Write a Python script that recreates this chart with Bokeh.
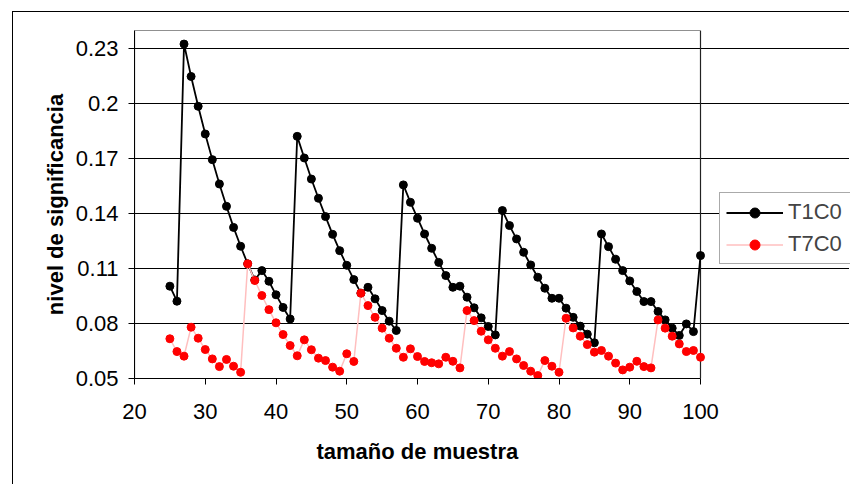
from bokeh.plotting import figure
from bokeh.models import Range1d, FixedTicker, Legend, LegendItem, BoxAnnotation, Title
from bokeh.embed import file_html
from bokeh.resources import INLINE

# ---- data ----
sample_size = list(range(25, 101))
t1c0 = [0.1004, 0.0922, 0.2326, 0.2149, 0.1986, 0.1835, 0.1695, 0.1562, 0.1440, 0.1325,
        0.1222, 0.1126, 0.1038, 0.1089, 0.1031, 0.0957, 0.0888, 0.0825, 0.1822, 0.1704,
        0.1589, 0.1484, 0.1384, 0.1287, 0.1198, 0.1118, 0.1040, 0.0966, 0.0998, 0.0935,
        0.0871, 0.0813, 0.0762, 0.1557, 0.1462, 0.1375, 0.1289, 0.1211, 0.1134, 0.1062,
        0.0998, 0.1004, 0.0944, 0.0886, 0.0831, 0.0784, 0.0738, 0.1417, 0.1335, 0.1262,
        0.1189, 0.1120, 0.1053, 0.0993, 0.0938, 0.0938, 0.0884, 0.0834, 0.0786, 0.0742,
        0.0695, 0.1289, 0.1220, 0.1151, 0.1089, 0.1033, 0.0975, 0.0920, 0.0920, 0.0866,
        0.0820, 0.0775, 0.0735, 0.0798, 0.0756, 0.1171]
t7c0 = [0.0717, 0.0647, 0.0622, 0.0780, 0.0720, 0.0658, 0.0607, 0.0565, 0.0604, 0.0567,
        0.0534, 0.1126, 0.1035, 0.0953, 0.0876, 0.0804, 0.0740, 0.0680, 0.0624, 0.0711,
        0.0657, 0.0611, 0.0598, 0.0562, 0.0540, 0.0635, 0.0593, 0.0966, 0.0898, 0.0834,
        0.0775, 0.0720, 0.0665, 0.0616, 0.0662, 0.0620, 0.0593, 0.0586, 0.0580, 0.0616,
        0.0594, 0.0558, 0.0871, 0.0816, 0.0758, 0.0711, 0.0665, 0.0622, 0.0647, 0.0607,
        0.0571, 0.0540, 0.0516, 0.0598, 0.0567, 0.0534, 0.0829, 0.0776, 0.0731, 0.0685,
        0.0644, 0.0653, 0.0622, 0.0584, 0.0547, 0.0562, 0.0594, 0.0565, 0.0558, 0.0820,
        0.0775, 0.0731, 0.0689, 0.0647, 0.0653, 0.0616]
x_ticks = [20, 30, 40, 50, 60, 70, 80, 90, 100]
y_ticks = [0.05, 0.08, 0.11, 0.14, 0.17, 0.2, 0.23]
y_tick_labels = ["0.05", "0.08", "0.11", "0.14", "0.17", "0.2", "0.23"]
series_names = ["T1C0", "T7C0"]
x_title = "tamaño de muestra"
y_title = "nivel de significancia"

X_MIN, X_MAX = 20, 100
Y_MIN, Y_MAX = 0.05, 0.24
FONT = "Liberation Sans"

# frame spans to the right edge so the legend (which sits outside the plot
# area) is not clipped; the plot area itself is 20..100
x_view_max = X_MAX + 150 / (566 / (X_MAX - X_MIN))

p = figure(width=837, height=473, output_backend="svg", toolbar_location=None,
           x_range=Range1d(X_MIN, x_view_max), y_range=Range1d(Y_MIN, Y_MAX),
           min_border_left=121, min_border_right=0, min_border_top=18, min_border_bottom=107)
p.styles = {"margin-left": "12px", "margin-top": "11px",
            "border-left": "1px solid #000", "border-top": "1px solid #000"}

p.background_fill_color = "white"
p.border_fill_color = "white"
p.outline_line_color = None

# axes
p.xaxis.ticker = FixedTicker(ticks=x_ticks)
p.yaxis.ticker = FixedTicker(ticks=y_ticks)
p.xaxis.bounds = (X_MIN, X_MAX)
p.yaxis.major_label_overrides = {t: l for t, l in zip(y_ticks, y_tick_labels)}
for ax in (p.xaxis, p.yaxis):
    ax.axis_line_color = "black"
    ax.axis_line_width = 1
    ax.major_tick_line_color = "black"
    ax.major_tick_out = 6
    ax.major_tick_in = 0
    ax.minor_tick_out = 0
    ax.minor_tick_in = 0
    ax.major_label_text_font = FONT
    ax.major_label_text_font_size = "22px"
    ax.major_label_text_color = "black"
    ax.axis_label_text_font = FONT
    ax.axis_label_text_font_size = "22px"
    ax.axis_label_text_font_style = "bold"
    ax.axis_label_text_color = "black"
p.yaxis.axis_label = y_title
p.xaxis.major_label_standoff = 19
p.yaxis.major_label_standoff = 10
p.yaxis.axis_label_standoff = 5

# x-axis title centred under the plot area (20..100), not the wider frame
p.add_layout(Title(text=x_title, align="left", offset=182, standoff=30,
                   text_font=FONT, text_font_size="22px", text_font_style="bold",
                   text_color="black"), "below")

p.xgrid.visible = False
p.ygrid.ticker = FixedTicker(ticks=y_ticks)
p.ygrid.bounds = (X_MIN, X_MAX)
p.ygrid.grid_line_color = "black"
p.ygrid.grid_line_width = 1

# plot-area border
p.add_layout(BoxAnnotation(left=X_MIN, right=X_MAX, bottom=Y_MIN, top=Y_MAX,
                           fill_alpha=0, line_color="#222222", line_alpha=1.0,
                           line_width=1.2, level="underlay"))

# series
l1 = p.line(sample_size, t1c0, line_color="black", line_width=1.8)
s1 = p.scatter(sample_size, t1c0, size=8, fill_color="black", line_color="black")
l2 = p.line(sample_size, t7c0, line_color="#ffbfbf", line_width=1.5)
s2 = p.scatter(sample_size, t7c0, size=8, fill_color="#ff0000", line_color="#ff0000")

legend = Legend(items=[LegendItem(label=series_names[0], renderers=[l1, s1]),
                       LegendItem(label=series_names[1], renderers=[l2, s2])],
                location=(585, 114), orientation="vertical",
                label_text_font=FONT, label_text_font_size="22px",
                glyph_width=57, glyph_height=25, label_height=25, label_width=80,
                label_standoff=5, spacing=6, padding=6, margin=0,
                border_line_color="#555555", border_line_width=1.5,
                background_fill_color="white", background_fill_alpha=1.0)
p.add_layout(legend, "center")

open("out.html", "w").write(file_html(p, INLINE))
